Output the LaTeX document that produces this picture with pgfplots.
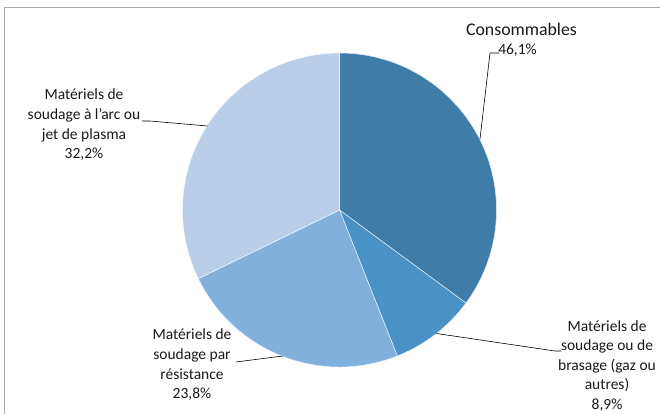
\documentclass[border=0pt]{standalone}
\usepackage{pgfplots}
\pgfplotsset{compat=1.18}
\usepackage{fontspec}
\setmainfont{Carlito}
\definecolor{cA}{RGB}{63,124,168}
\definecolor{cB}{RGB}{74,145,198}
\definecolor{cC}{RGB}{128,176,220}
\definecolor{cD}{RGB}{185,206,233}
\definecolor{frame}{RGB}{170,170,170}
\begin{document}
\begin{tikzpicture}
\useasboundingbox (0,0) rectangle (660pt,414pt);
\begin{axis}[hide axis, scale only axis, width=660pt, height=414pt,
  xmin=0, xmax=660, ymin=0, ymax=414, y dir=reverse, clip=false]
% frame
\draw[frame, line width=1pt] (axis cs:680,8) -- (axis cs:4,8) -- (axis cs:4,430);
% slices: drawn share (%), clockwise from the top
\def\startangle{90}
\pgfplotsforeachungrouped \v/\c in {35.1/cA, 8.9/cB, 23.8/cC, 32.2/cD}{%
  \pgfmathsetmacro\endangle{\startangle-3.6*\v}%
  \edef\temp{\noexpand\fill[\c, draw=white!85!\c, line width=0.5pt] (axis cs:339.5,210) -- ++(\startangle:157pt) arc[start angle=\startangle, end angle=\endangle, radius=157pt] -- cycle;}%
  \temp
  \global\let\startangle\endangle
}
% leader lines
\draw[black, line width=0.6pt] (axis cs:499,53) -- (axis cs:490,53) -- (axis cs:480,139);
\draw[black, line width=0.6pt] (axis cs:142,121) -- (axis cs:150,121) -- (axis cs:207.5,126);
\draw[black, line width=0.6pt] (axis cs:236,362) -- (axis cs:282.5,356);
\draw[black, line width=0.6pt] (axis cs:436.5,333.5) -- (axis cs:555,351) -- (axis cs:561,351);
% labels
\tikzset{lab/.style={align=center, font=\fontsize{15.5}{19.6}\selectfont, inner sep=0pt, text=black!90}}
\node[lab, font=\fontsize{17.8}{20}\selectfont] at (axis cs:521.5,29) {Consommables};
\node[lab] at (axis cs:517.5,50) {46,1\%};
\node[lab] at (axis cs:84,125) {Matériels de\\soudage à l'arc ou\\jet de plasma\\32,2\%};
\node[lab] at (axis cs:192,365) {Matériels de\\soudage par\\résistance\\23,8\%};
\node[lab] at (axis cs:607,366) {Matériels de\\soudage ou de\\brasage (gaz ou\\autres)\\8,9\%};
\end{axis}
\end{tikzpicture}
\end{document}
